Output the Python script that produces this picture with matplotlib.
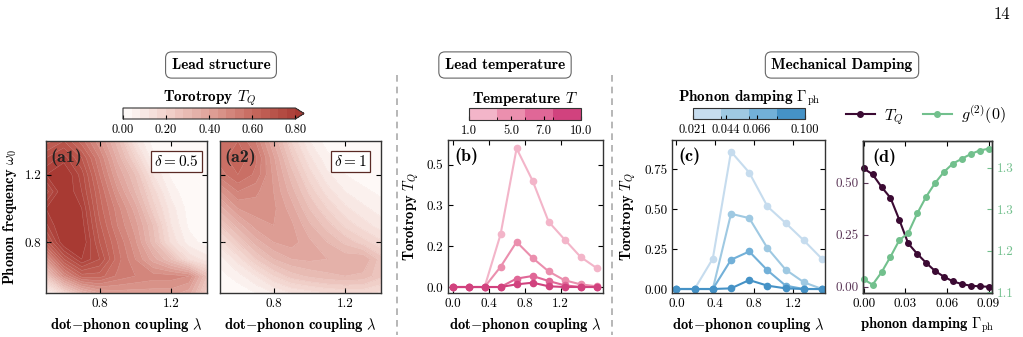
import numpy as np
import matplotlib
matplotlib.use('Agg')
import matplotlib.pyplot as plt
from matplotlib.colors import LinearSegmentedColormap, ListedColormap, BoundaryNorm, Normalize
from matplotlib.cm import ScalarMappable
from matplotlib.ticker import FormatStrFormatter
from matplotlib.lines import Line2D

plt.rcParams.update({
    'font.family': ['cmr10', 'DejaVu Serif'],
    'mathtext.fontset': 'cm',
    'axes.unicode_minus': False,
    'axes.formatter.use_mathtext': True,
    'font.size': 9.5,
    'xtick.direction': 'in', 'ytick.direction': 'in',
    'xtick.top': True, 'ytick.right': True,
    'axes.linewidth': 1.0, 'axes.edgecolor': '#333333',
})
BOLD = ['cmb10', 'DejaVu Serif']

# ---- data: (a1)/(a2) torotropy maps, rows = omega, columns = lambda
lam_grid = [0.5, 0.6, 0.7, 0.8, 0.9, 1.0, 1.1, 1.2, 1.3, 1.4]
omega_grid = [0.5, 0.6, 0.7, 0.8, 0.9, 1.0, 1.1, 1.2, 1.3, 1.4]
tq_delta05 = [
    [0.05, 0.18, 0.32, 0.40, 0.42, 0.42, 0.42, 0.42, 0.38, 0.22],
    [0.25, 0.48, 0.62, 0.62, 0.55, 0.52, 0.50, 0.50, 0.48, 0.28],
    [0.45, 0.68, 0.80, 0.72, 0.58, 0.48, 0.38, 0.28, 0.15, 0.10],
    [0.65, 0.84, 0.84, 0.68, 0.56, 0.45, 0.30, 0.15, 0.06, 0.02],
    [0.75, 0.86, 0.82, 0.65, 0.52, 0.42, 0.28, 0.12, 0.03, 0.00],
    [0.80, 0.86, 0.80, 0.62, 0.50, 0.38, 0.22, 0.10, 0.02, 0.00],
    [0.70, 0.85, 0.76, 0.60, 0.45, 0.32, 0.18, 0.06, 0.01, 0.00],
    [0.80, 0.85, 0.74, 0.56, 0.40, 0.28, 0.12, 0.03, 0.00, 0.00],
    [0.72, 0.78, 0.68, 0.52, 0.35, 0.20, 0.05, 0.01, 0.00, 0.00],
    [0.62, 0.68, 0.58, 0.45, 0.30, 0.12, 0.02, 0.00, 0.00, 0.00],
]
tq_delta1 = [
    [0.00, 0.01, 0.04, 0.08, 0.12, 0.14, 0.16, 0.17, 0.17, 0.15],
    [0.02, 0.06, 0.12, 0.20, 0.26, 0.29, 0.31, 0.32, 0.31, 0.25],
    [0.06, 0.14, 0.24, 0.32, 0.36, 0.37, 0.36, 0.35, 0.36, 0.26],
    [0.14, 0.24, 0.34, 0.40, 0.42, 0.37, 0.32, 0.27, 0.22, 0.17],
    [0.24, 0.34, 0.42, 0.44, 0.41, 0.33, 0.26, 0.19, 0.14, 0.10],
    [0.34, 0.44, 0.46, 0.45, 0.38, 0.28, 0.20, 0.13, 0.09, 0.06],
    [0.44, 0.52, 0.49, 0.44, 0.34, 0.23, 0.14, 0.08, 0.05, 0.03],
    [0.54, 0.60, 0.55, 0.43, 0.30, 0.18, 0.09, 0.04, 0.02, 0.01],
    [0.58, 0.63, 0.57, 0.41, 0.25, 0.13, 0.05, 0.02, 0.00, 0.00],
    [0.57, 0.60, 0.52, 0.36, 0.20, 0.08, 0.02, 0.00, 0.00, 0.00],
]

# ---- (b) lead temperature
lam_b = [0.0, 0.178, 0.356, 0.533, 0.711, 0.889, 1.067, 1.244, 1.422, 1.6]
temp_ticks = [1.0, 4.4, 7.0, 10.0]
temp_labels = ['1.0', '5.0', '7.0', '10.0']
tq_b = [
    [0.0, 0.0, 0.0, 0.219, 0.578, 0.443, 0.272, 0.198, 0.125, 0.079],
    [0.0, 0.0, 0.0, 0.084, 0.188, 0.121, 0.065, 0.028, 0.011, 0.003],
    [0.0, 0.0, 0.0, 0.0, 0.035, 0.046, 0.025, 0.007, 0.0, 0.0],
    [0.0, 0.0, 0.0, 0.0, 0.011, 0.018, 0.003, 0.0, 0.0, 0.0],
]
colors_b = ['#f3b5c9', '#eb8fae', '#e06797', '#d1427e']

# ---- (c) phonon damping
lam_c = [0.0, 0.1875, 0.375, 0.5625, 0.75, 0.9375, 1.125, 1.3125, 1.5]
damp_ticks = [0.021, 0.044, 0.066, 0.100]
tq_c = [
    [0.0, 0.0, 0.190, 0.860, 0.729, 0.517, 0.413, 0.304, 0.188],
    [0.0, 0.0, 0.0, 0.471, 0.444, 0.256, 0.121, 0.042, 0.0],
    [0.0, 0.0, 0.0, 0.183, 0.235, 0.117, 0.021, 0.0, 0.0],
    [0.0, 0.0, 0.0, 0.004, 0.056, 0.021, 0.004, 0.0, 0.0],
]
colors_c = ['#c6dcee', '#9fc9e2', '#72b0d8', '#4592c6']

# ---- (d) damping sweep
gamma_d = [0.0, 0.0064, 0.0129, 0.0193, 0.0257, 0.0321, 0.0386, 0.045,
           0.0514, 0.0579, 0.0643, 0.0707, 0.0771, 0.0836, 0.09]
tq_d = [0.568, 0.540, 0.479, 0.427, 0.321, 0.208, 0.158, 0.115,
        0.076, 0.048, 0.026, 0.013, 0.005, 0.002, 0.0]
g2_d = [1.142, 1.133, 1.154, 1.180, 1.208, 1.220, 1.253, 1.281,
        1.304, 1.323, 1.337, 1.345, 1.353, 1.359, 1.362]
col_tq = '#3b0a33'
col_g2 = '#72c08d'

W, H = 1023, 337
fig = plt.figure(figsize=(W / 100, H / 100), dpi=100)


def rect(x0, y0, x1, y1):
    return [x0 / W, 1 - y1 / H, (x1 - x0) / W, (y1 - y0) / H]


# ---------------- heatmaps
cmap_tq = LinearSegmentedColormap.from_list(
    'tq', ['#fffdfc', '#f1d2cb', '#dea097', '#c5665b', '#a83a33'])
levels = np.linspace(0, 0.8, 21)
norm_tq = Normalize(0, 0.82)
ax_a1 = fig.add_axes(rect(46, 141, 207, 293))
ax_a2 = fig.add_axes(rect(220, 141, 381, 293))
for ax, z, lab, dlt in [(ax_a1, tq_delta05, '(a1)', r'$\delta = 0.5$'),
                        (ax_a2, tq_delta1, '(a2)', r'$\delta = 1$')]:
    cs = ax.contourf(lam_grid, omega_grid, z, levels=levels, cmap=cmap_tq,
                     norm=norm_tq, extend='max')
    ax.contour(lam_grid, omega_grid, z, levels=levels, colors='white',
               linewidths=0.3, alpha=0.35)
    ax.set_xticks([0.8, 1.2])
    ax.set_yticks([0.8, 1.2])
    ax.xaxis.set_major_formatter(FormatStrFormatter('%.1f'))
    ax.yaxis.set_major_formatter(FormatStrFormatter('%.1f'))
    ax.set_xlabel(r'dot$-$phonon coupling $\lambda$', family=BOLD, fontsize=10.5)
    ax.text(0.03, 0.95, lab, transform=ax.transAxes, family=BOLD,
            fontsize=13, va='top', ha='left', color='#222222')
    ax.text(0.81, 0.865, dlt, transform=ax.transAxes, fontsize=11, ha='center',
            va='center', bbox=dict(boxstyle='square,pad=0.2', fc='white',
                                   ec='#5a2a25', lw=0.9))
ax_a1.set_ylabel(r'Phonon frequency $\omega_0$', family=BOLD, fontsize=10.5)
ax_a2.set_yticklabels([])

cax_a = fig.add_axes(rect(123, 108, 304, 119))
cb_a = fig.colorbar(cs, cax=cax_a, orientation='horizontal',
                    ticks=[0, 0.2, 0.4, 0.6, 0.8], format='%.2f')
cb_a.outline.set_linewidth(0.8)
cax_a.tick_params(labelsize=9, direction='in', length=3)
cax_a.set_title(r'Torotropy $T_Q$', family=BOLD, fontsize=11, pad=3)

# ---------------- (b)
ax_b = fig.add_axes(rect(448, 140, 603, 293))
for y, c in zip(tq_b, colors_b):
    ax_b.plot(lam_b, y, '-o', color=c, lw=1.5, ms=4.5)
ax_b.set_xlim(-0.05, 1.67)
ax_b.set_ylim(-0.025, 0.613)
ax_b.set_xticks([0.0, 0.4, 0.8, 1.2])
ax_b.set_yticks([0.0, 0.17, 0.34, 0.51])
ax_b.xaxis.set_major_formatter(FormatStrFormatter('%.1f'))
ax_b.yaxis.set_major_formatter(FormatStrFormatter('%.1f'))
ax_b.set_xlabel(r'dot$-$phonon coupling $\lambda$', family=BOLD, fontsize=10.5)
ax_b.set_ylabel(r'Torotropy $T_Q$', family=BOLD, fontsize=10.5)
ax_b.text(0.04, 0.95, '(b)', transform=ax_b.transAxes, family=BOLD,
          fontsize=13, va='top')

cax_b = fig.add_axes(rect(469, 108, 581, 120))
sm_b = ScalarMappable(norm=BoundaryNorm(np.linspace(1, 10, 5), 4),
                      cmap=ListedColormap(colors_b))
cb_b = fig.colorbar(sm_b, cax=cax_b, orientation='horizontal')
cb_b.set_ticks(temp_ticks, labels=temp_labels)
cb_b.outline.set_linewidth(0.8)
cax_b.tick_params(labelsize=9, direction='in', length=3)
cax_b.set_title(r'Temperature $T$', family=BOLD, fontsize=11, pad=3)

# ---------------- (c)
ax_c = fig.add_axes(rect(672, 140, 825, 293))
for y, c in zip(tq_c, colors_c):
    ax_c.plot(lam_c, y, '-o', color=c, lw=1.5, ms=4.5)
ax_c.set_xlim(-0.045, 1.53)
ax_c.set_ylim(-0.025, 0.933)
ax_c.set_xticks([0.0, 0.4, 0.8, 1.2])
ax_c.set_yticks([0.0, 0.25, 0.5, 0.75])
ax_c.xaxis.set_major_formatter(FormatStrFormatter('%.1f'))
ax_c.yaxis.set_major_formatter(FormatStrFormatter('%.2f'))
ax_c.set_xlabel(r'dot$-$phonon coupling $\lambda$', family=BOLD, fontsize=10.5)
ax_c.set_ylabel(r'Torotropy $T_Q$', family=BOLD, fontsize=10.5)
ax_c.text(0.04, 0.95, '(c)', transform=ax_c.transAxes, family=BOLD,
          fontsize=13, va='top')

cax_c = fig.add_axes(rect(693, 108, 805, 119))
sm_c = ScalarMappable(norm=BoundaryNorm(np.linspace(0.021, 0.100, 5), 4),
                      cmap=ListedColormap(colors_c))
cb_c = fig.colorbar(sm_c, cax=cax_c, orientation='horizontal')
cb_c.set_ticks(damp_ticks, labels=['%.3f' % t for t in damp_ticks])
cb_c.outline.set_linewidth(0.8)
cax_c.tick_params(labelsize=9, direction='in', length=3)
cax_c.set_title(r'Phonon damping $\Gamma_{\rm ph}$', family=BOLD,
                fontsize=11, pad=3)

# ---------------- (d)
ax_d = fig.add_axes(rect(863, 141, 992, 293))
ax_d.plot(gamma_d, tq_d, '-o', color=col_tq, lw=1.5, ms=4, clip_on=False, zorder=3)
ax_d.set_xlim(-0.0005, 0.0925)
ax_d.set_ylim(-0.03, 0.70)
ax_d.set_xticks([0.0, 0.03, 0.06, 0.09])
ax_d.set_yticks([0.0, 0.25, 0.5])
ax_d.xaxis.set_major_formatter(FormatStrFormatter('%.2f'))
ax_d.yaxis.set_major_formatter(FormatStrFormatter('%.2f'))
ax_d.tick_params(axis='y', right=False, colors='#5a3556')
ax_d.set_xlabel(r'phonon damping $\Gamma_{\rm ph}$', family=BOLD, fontsize=10.5)
ax_d.text(0.07, 0.95, '(d)', transform=ax_d.transAxes, family=BOLD,
          fontsize=13, va='top')
ax_d2 = ax_d.twinx()
ax_d2.plot(gamma_d, g2_d, '-o', color=col_g2, lw=1.5, ms=4, clip_on=False)
ax_d2.set_ylim(1.119, 1.375)
ax_d2.set_yticks([1.12, 1.19, 1.26, 1.33])
ax_d2.yaxis.set_major_formatter(FormatStrFormatter('%.1f'))
ax_d2.tick_params(axis='y', colors=col_g2, direction='in')
ax_d2.tick_params(axis='y', left=False)
for sp in ax_d2.spines.values():
    sp.set_edgecolor('#333333')

handles = [Line2D([], [], color=col_tq, marker='o', lw=1.5, ms=4),
           Line2D([], [], color=col_g2, marker='o', lw=1.5, ms=4)]
fig.legend(handles, [r'$T_Q$', r'$g^{(2)}(0)$'], loc='center',
           bbox_to_anchor=(926 / W, 1 - 115 / H), ncol=2, frameon=False,
           fontsize=11.5, handlelength=1.8, columnspacing=1.2, handletextpad=0.6)

# ---------------- section headers and separators
box = dict(boxstyle='round,pad=0.4', fc='white', ec='#666666', lw=0.8)
for x, t in [(221, 'Lead structure'), (505, 'Lead temperature'),
             (842, 'Mechanical Damping')]:
    fig.text(x / W, 1 - 65 / H, t, family=BOLD, fontsize=11, ha='center',
             va='center', bbox=box)
for x in [397, 612]:
    fig.add_artist(Line2D([x / W, x / W], [1 - 75 / H, 1 - 335 / H],
                          color='#aaaaaa', lw=1.2, ls=(0, (4, 3))))
fig.text(1010 / W, 1 - 14 / H, '14', fontsize=12, ha='right', va='center')

fig.savefig('out.png', dpi=100)
